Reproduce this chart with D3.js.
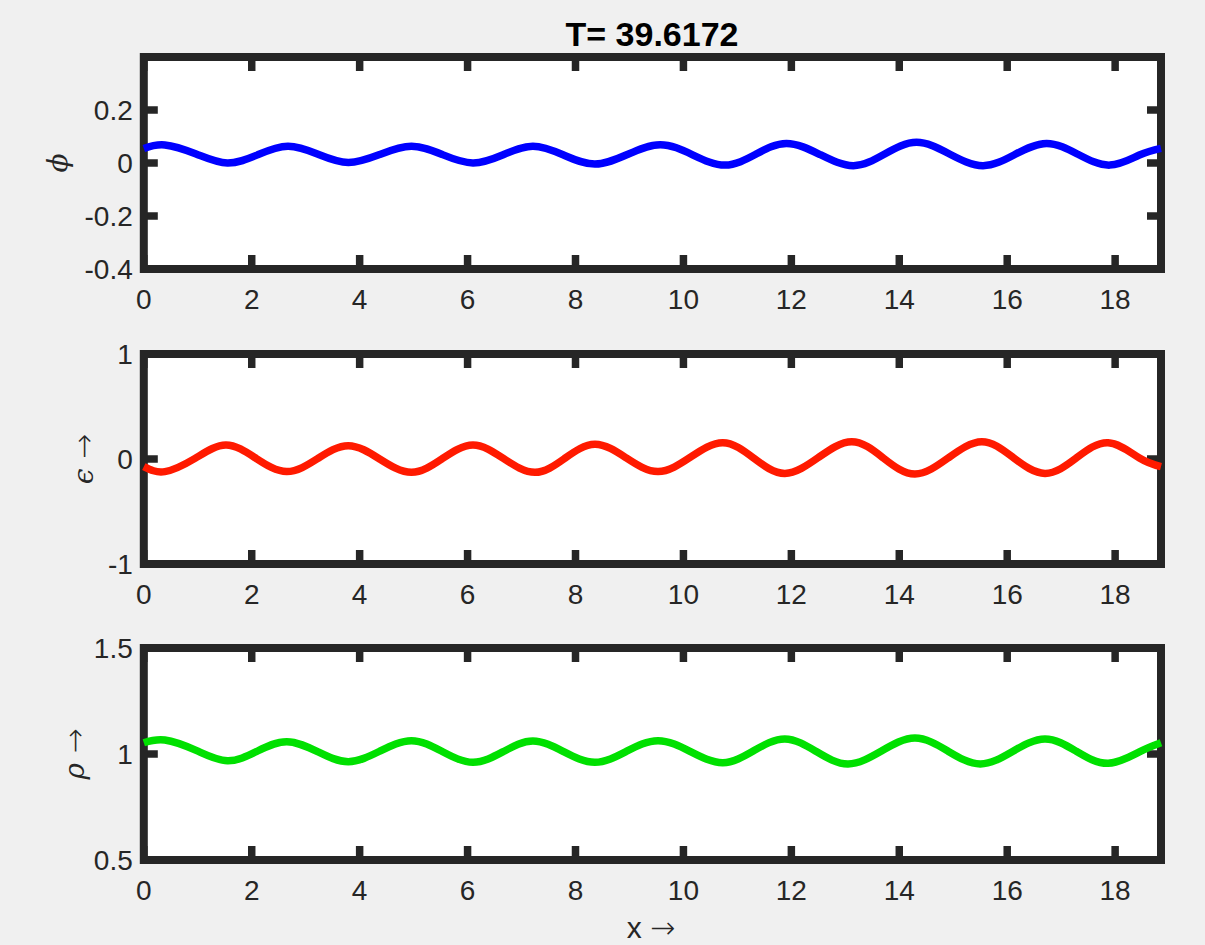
<!DOCTYPE html>
<html>
<head>
<meta charset="utf-8">
<script src="https://cdn.jsdelivr.net/npm/d3@7"></script>
<style>
  html, body { margin: 0; padding: 0; background: #f0f0f0; }
  svg { display: block; }
</style>
</head>
<body>
<svg id="chart" width="1205" height="945"></svg>
<script>
// ---------------- data ----------------
const titleText = "T= 39.6172";
const xDomain = [0, 18.85];
const xTicks = [0, 2, 4, 6, 8, 10, 12, 14, 16, 18];

// phi (blue)
const xPhi = [0, 0.39, 0.97, 1.55, 2.11, 2.67, 3.23, 3.79, 4.37, 4.96, 5.53, 6.10, 6.66, 7.21, 7.78, 8.36,
  8.96, 9.57, 10.17, 10.77, 11.34, 11.91, 12.53, 13.15, 13.73, 14.32, 14.93, 15.55, 16.14, 16.73, 17.31, 17.90, 18.45, 18.85];
const phi = [0.055, 0.068, 0.034, 0.000, 0.031, 0.063, 0.033, 0.002, 0.032, 0.063, 0.032, 0.000, 0.031, 0.063, 0.030, -0.004,
  0.032, 0.069, 0.031, -0.008, 0.033, 0.074, 0.032, -0.010, 0.034, 0.078, 0.034, -0.010, 0.032, 0.074, 0.033, -0.008, 0.030, 0.055];
const phiTicks = [-0.4, -0.2, 0, 0.2];
const phiTickLabels = ["-0.4", "-0.2", "0", "0.2"];

// epsilon (red)
const xEps = [0, 0.39, 0.95, 1.52, 2.08, 2.65, 3.22, 3.79, 4.37, 4.96, 5.53, 6.10, 6.67, 7.25, 7.80, 8.36,
  8.94, 9.53, 10.13, 10.73, 11.30, 11.88, 12.50, 13.12, 13.70, 14.29, 14.91, 15.53, 16.11, 16.70, 17.28, 17.87, 18.45, 18.85];
const eps = [-0.073, -0.120, 0.006, 0.133, 0.006, -0.120, 0.003, 0.127, 0.000, -0.127, 0.003, 0.133, 0.003, -0.127, 0.006, 0.140,
  0.010, -0.120, 0.017, 0.155, 0.009, -0.137, 0.014, 0.165, 0.011, -0.143, 0.011, 0.165, 0.014, -0.137, 0.009, 0.155, 0.010, -0.073];
const epsTicks = [-1, 0, 1];
const epsTickLabels = ["-1", "0", "1"];

// rho (green)
const xRho = [0, 0.39, 0.97, 1.55, 2.10, 2.65, 3.22, 3.79, 4.37, 4.96, 5.53, 6.10, 6.66, 7.21, 7.78, 8.36,
  8.94, 9.53, 10.13, 10.73, 11.30, 11.88, 12.46, 13.05, 13.67, 14.29, 14.90, 15.50, 16.10, 16.70, 17.28, 17.87, 18.45, 18.85];
const rho = [1.053, 1.066, 1.017, 0.968, 1.013, 1.058, 1.011, 0.964, 1.013, 1.063, 1.012, 0.961, 1.011, 1.061, 1.011, 0.961,
  1.012, 1.063, 1.011, 0.959, 1.015, 1.071, 1.012, 0.953, 1.014, 1.075, 1.014, 0.953, 1.012, 1.071, 1.013, 0.956, 1.010, 1.053];
const rhoTicks = [0.5, 1, 1.5];
const rhoTickLabels = ["0.5", "1", "1.5"];

// ---------------- drawing ----------------
const svg = d3.select("#chart");
const W = 1205, H = 945;
svg.append("rect").attr("width", W).attr("height", H).attr("fill", "#f0f0f0");

const axisColor = "#262626";
const frameW = 8;
const tickLen = 14;
const left = 143.8, right = 1161;
const x = d3.scaleLinear().domain(xDomain).range([left, right]);

const panels = [
  { top: 57, bottom: 269, yDomain: [-0.4, 0.4], ticks: phiTicks, labels: phiTickLabels,
    xs: xPhi, ys: phi, color: "#0000ff", label: [{t: "ϕ", f: "DejaVu Serif", s: 28, it: true}], labelX: 57 },
  { top: 354, bottom: 564, yDomain: [-1, 1], ticks: epsTicks, labels: epsTickLabels,
    xs: xEps, ys: eps, color: "#ff1a00", label: [{t: "ϵ", f: "DejaVu Serif", s: 28, it: true}, {t: " →", f: "DejaVu Sans", s: 30, it: false}], labelX: 83 },
  { top: 648, bottom: 860, yDomain: [0.5, 1.5], ticks: rhoTicks, labels: rhoTickLabels,
    xs: xRho, ys: rho, color: "#00e000", label: [{t: "ρ", f: "DejaVu Serif", s: 28, it: true}, {t: " →", f: "DejaVu Sans", s: 30, it: false}], labelX: 74 }
];

const tickFont = "'Liberation Sans', Arial, Helvetica, sans-serif";
const tickSize = 28;

panels.forEach(p => {
  const y = d3.scaleLinear().domain(p.yDomain).range([p.bottom, p.top]);
  const g = svg.append("g");

  // plot area
  g.append("rect")
    .attr("x", left).attr("y", p.top)
    .attr("width", right - left).attr("height", p.bottom - p.top)
    .attr("fill", "#ffffff");

  // ticks (inward) on all four sides
  const tk = g.append("g").attr("stroke", axisColor).attr("stroke-width", 7.5);
  xTicks.forEach(v => {
    const xx = x(v);
    tk.append("line").attr("x1", xx).attr("x2", xx).attr("y1", p.bottom).attr("y2", p.bottom - tickLen);
    tk.append("line").attr("x1", xx).attr("x2", xx).attr("y1", p.top).attr("y2", p.top + tickLen);
  });
  p.ticks.forEach(v => {
    const yy = y(v);
    tk.append("line").attr("x1", left).attr("x2", left + tickLen).attr("y1", yy).attr("y2", yy);
    tk.append("line").attr("x1", right).attr("x2", right - tickLen).attr("y1", yy).attr("y2", yy);
  });

  // frame
  g.append("rect")
    .attr("x", left).attr("y", p.top)
    .attr("width", right - left).attr("height", p.bottom - p.top)
    .attr("fill", "none").attr("stroke", axisColor).attr("stroke-width", frameW);

  // data line
  const line = d3.line()
    .x((d, i) => x(p.xs[i]))
    .y(d => y(d))
    .curve(d3.curveNatural);
  g.append("path")
    .datum(p.ys)
    .attr("d", line)
    .attr("fill", "none")
    .attr("stroke", p.color)
    .attr("stroke-width", 7.5)
    .attr("stroke-linejoin", "round");

  // x tick labels
  xTicks.forEach(v => {
    g.append("text")
      .attr("x", x(v)).attr("y", p.bottom + 40)
      .attr("text-anchor", "middle")
      .attr("font-family", tickFont).attr("font-size", tickSize)
      .attr("fill", axisColor)
      .text(String(v));
  });
  // y tick labels
  p.ticks.forEach((v, i) => {
    g.append("text")
      .attr("x", left - 11).attr("y", y(v) + 10)
      .attr("text-anchor", "end")
      .attr("font-family", tickFont).attr("font-size", tickSize)
      .attr("fill", axisColor)
      .text(p.labels[i]);
  });

  // y label (rotated)
  const cy = (p.top + p.bottom) / 2;
  const lt = g.append("text")
    .attr("transform", `translate(${p.labelX},${cy}) rotate(-90)`)
    .attr("text-anchor", "middle")
    .attr("dominant-baseline", "central")
    .attr("fill", axisColor);
  p.label.forEach(part => {
    lt.append("tspan")
      .attr("font-family", part.f)
      .attr("font-size", part.s)
      .attr("font-style", part.it ? "italic" : "normal")
      .attr("font-weight", 300)
      .text(part.t);
  });
});

// title
svg.append("text")
  .attr("x", 652).attr("y", 46)
  .attr("text-anchor", "middle")
  .attr("font-family", tickFont).attr("font-size", 34).attr("font-weight", "bold")
  .attr("fill", "#000")
  .text(titleText);

// x label
const xl = svg.append("text")
  .attr("x", 651).attr("y", 938)
  .attr("text-anchor", "middle")
  .attr("fill", axisColor);
xl.append("tspan").attr("font-family", tickFont).attr("font-size", 30).text("x ");
xl.append("tspan").attr("font-family", "DejaVu Sans").attr("font-size", 30).attr("font-weight", 300).text("→");
</script>
</body>
</html>
